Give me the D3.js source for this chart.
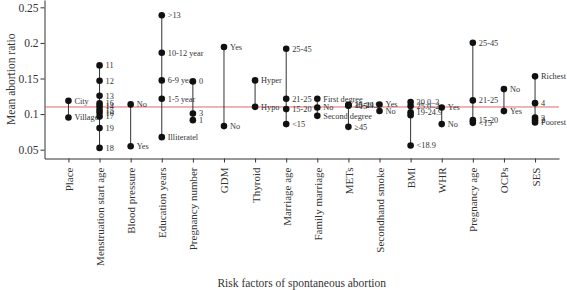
<!DOCTYPE html>
<html><head><meta charset="utf-8">
<script src="https://cdn.jsdelivr.net/npm/d3@7"></script>
<style>
html,body{margin:0;padding:0;background:#fff;}
svg{display:block;font-family:"Liberation Serif","DejaVu Serif",serif;}
</style></head>
<body>
<svg id="chart" width="567" height="290"></svg>
<script>
const categories = ["Place","Menstruation start age","Blood pressure","Education years","Pregnancy number","GDM","Thyroid","Marriage age","Family marriage","METs","Secondhand smoke","BMI","WHR","Pregnancy age","OCPs","SES"];
const placeLevels = ["City","Village"];
const placeValues = [0.1186,0.0953];
const menstruationLevels = ["11","12","13","16","14","15","10","17","19","18"];
const menstruationValues = [0.1684,0.1468,0.1257,0.1150,0.1110,0.1060,0.1020,0.0965,0.0803,0.0525];
const bpLevels = ["No","Yes"];
const bpValues = [0.1136,0.0549];
const educationLevels = [">13","10-12 year","6-9 year","1-5 year","Illiteratel"];
const educationValues = [0.2388,0.1862,0.1473,0.1215,0.0676];
const pregnancyNumberLevels = ["0","3","1"];
const pregnancyNumberValues = [0.1459,0.1009,0.0915];
const gdmLevels = ["Yes","No"];
const gdmValues = [0.1942,0.0831];
const thyroidLevels = ["Hyper","Hypo"];
const thyroidValues = [0.1473,0.1102];
const marriageAgeLevels = ["25-45","21-25","15-20","<15"];
const marriageAgeValues = [0.1918,0.1215,0.1070,0.0859];
const familyMarriageLevels = ["First degree","No","Second degree"];
const familyMarriageValues = [0.1215,0.1093,0.0975];
const metsLevels = ["30-44.9","15-29.9","<15","≥45"];
const metsValues = [0.1130,0.1124,0.1118,0.0821];
const smokeLevels = ["Yes","No"];
const smokeValues = [0.1135,0.1044];
const bmiLevels = ["30.0–3","25.0–2","19-24.9","","<18.9"];
const bmiValues = [0.1170,0.1114,0.1025,0.0985,0.0559];
const whrLevels = ["Yes","No"];
const whrValues = [0.1093,0.0859];
const pregnancyAgeLevels = ["25-45","21-25","15-20","<15"];
const pregnancyAgeValues = [0.2002,0.1192,0.0915,0.0877];
const ocpLevels = ["No","Yes"];
const ocpValues = [0.1351,0.1042];
const sesLevels = ["Richest","4","3","2","Poorest"];
const sesValues = [0.1530,0.1154,0.0950,0.0915,0.0882];
const yTicks = [0.05,0.1,0.15,0.2,0.25];
const yTickLabels = ["0.05","0.1","0.15","0.2","0.25"];
const referenceValue = 0.11;

const groups = [
  [placeLevels,placeValues],[menstruationLevels,menstruationValues],[bpLevels,bpValues],
  [educationLevels,educationValues],[pregnancyNumberLevels,pregnancyNumberValues],[gdmLevels,gdmValues],
  [thyroidLevels,thyroidValues],[marriageAgeLevels,marriageAgeValues],[familyMarriageLevels,familyMarriageValues],
  [metsLevels,metsValues],[smokeLevels,smokeValues],[bmiLevels,bmiValues],[whrLevels,whrValues],
  [pregnancyAgeLevels,pregnancyAgeValues],[ocpLevels,ocpValues],[sesLevels,sesValues]
].map((g,i)=>({cat:categories[i], pts:g[0].map((l,j)=>({label:l,value:g[1][j]}))}));

const svg = d3.select("#chart");
const mLeft = 44.5, mRight = 559, mTop = 0, mBottom = 158.5;
const x = d3.scalePoint().domain(categories).range([mLeft,mRight]).padding(0.77);
const y = d3.scaleLinear().domain([0.0376,0.2603]).range([mBottom,mTop]);

// axes
const yAxis = d3.axisLeft(y).tickValues(yTicks).tickFormat((d,i)=>yTickLabels[i]).tickSize(4).tickSizeOuter(0);
const gy = svg.append("g").attr("transform",`translate(${mLeft},0)`).call(yAxis);
gy.select(".domain").attr("stroke","#333");
gy.selectAll(".tick line").attr("stroke","#333");
gy.selectAll(".tick text").attr("font-size",11.5).attr("fill","#333").attr("font-family","Liberation Serif").attr("x",-6);

const xAxis = d3.axisBottom(x).tickSize(4).tickSizeOuter(0);
const gx = svg.append("g").attr("transform",`translate(0,${mBottom})`).call(xAxis);
gx.select(".domain").attr("stroke","#333");
gx.selectAll(".tick line").attr("stroke","#333");
gx.selectAll(".tick text").attr("font-size",11).attr("fill","#333").attr("font-family","Liberation Serif")
  .attr("text-anchor","end").attr("dy",null).attr("y",0)
  .attr("transform","translate(0,9) rotate(-90)").attr("dominant-baseline","central");

// reference line
svg.append("line").attr("x1",mLeft).attr("x2",mRight).attr("y1",y(referenceValue)).attr("y2",y(referenceValue))
  .attr("stroke","#e0686c").attr("stroke-width",1);

// vertical ranges
const g = svg.append("g");
groups.forEach(gr=>{
  const cx = x(gr.cat);
  const ext = d3.extent(gr.pts,d=>d.value);
  g.append("line").attr("x1",cx).attr("x2",cx).attr("y1",y(ext[0])).attr("y2",y(ext[1]))
    .attr("stroke","#333").attr("stroke-width",1);
  gr.pts.forEach(p=>{
    g.append("circle").attr("cx",cx).attr("cy",y(p.value)).attr("r",3.3).attr("fill","#111");
    g.append("text").attr("x",cx+6).attr("y",y(p.value)).attr("dy","0.35em")
      .attr("font-size",8.3).attr("fill","#333").text(p.label);
  });
});

// titles
svg.append("text").attr("transform",`translate(11,${(mTop+mBottom)/2}) rotate(-90)`)
  .attr("text-anchor","middle").attr("dominant-baseline","central").attr("font-size",11.5).attr("fill","#333")
  .text("Mean abortion ratio");
svg.append("text").attr("x",(mLeft+mRight)/2).attr("y",283).attr("text-anchor","middle").attr("dominant-baseline","central")
  .attr("font-size",11.5).attr("fill","#333").text("Risk factors of spontaneous abortion");
</script>
</body></html>
